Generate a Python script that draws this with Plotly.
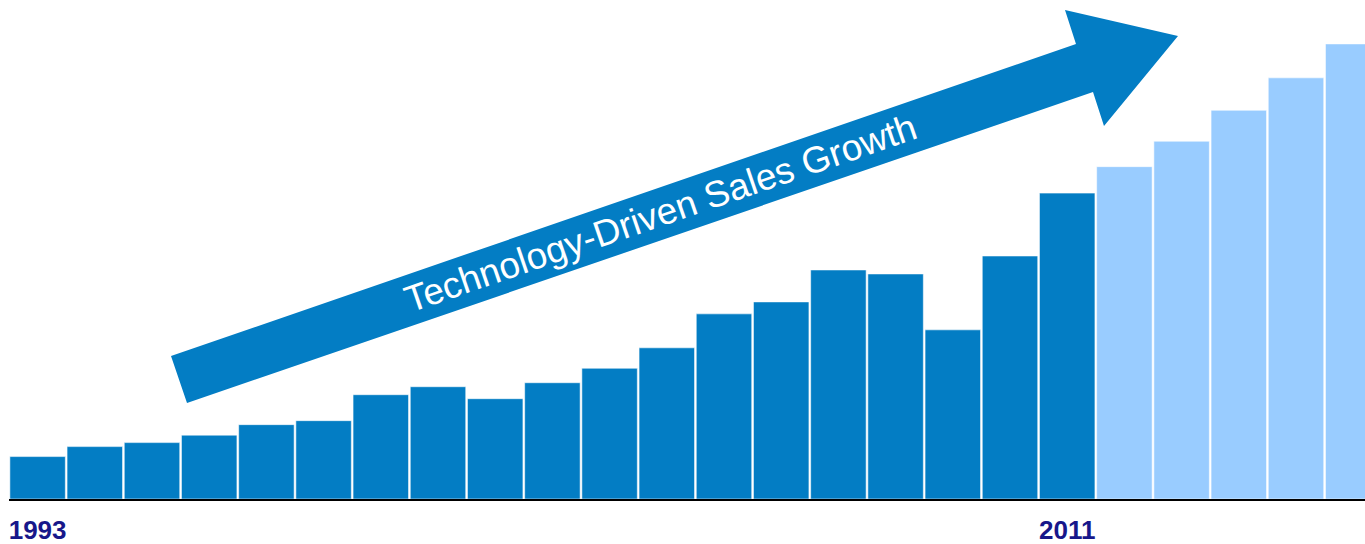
import plotly.graph_objects as go

# Annual sales, 1993-2011 actual, 2012-2016 projected
years = list(range(1993, 2017))
sales = [8.5, 10.5, 11.3, 12.8, 14.9, 15.7, 20.9, 22.5, 20.1, 23.3, 26.2, 30.3,
         37.1, 39.5, 45.9, 45.1, 33.9, 48.7, 61.3, 66.6, 71.7, 77.9, 84.4, 91.2]
last_actual_year = 2011
tick_years = [1993, 2011]
tick_text = ["1993", "2011"]
arrow_label = "Technology-Driven Sales Growth"

DARK = "#037dc4"
LIGHT = "#99ccff"
colors = [DARK if y <= last_actual_year else LIGHT for y in years]

W, H = 1365, 544
ML, MB = 9, 45
plot_w = W - ML
plot_h = H - MB


def to_paper(px, py):
    return ((px - ML) / plot_w, (plot_h - py) / plot_h)


# Outline of the growth arrow (in page pixels, converted to paper units)
arrow_pts = [(171, 356), (1076, 44), (1065, 10), (1178, 36),
             (1104, 126), (1093, 92), (187, 403)]
path = "M " + " L ".join("%.5f,%.5f" % to_paper(x, y) for x, y in arrow_pts) + " Z"

fig = go.Figure(
    go.Bar(
        x=years,
        y=sales,
        marker=dict(color=colors, line=dict(color="rgba(255,255,255,0.55)", width=1)),
        hoverinfo="x+y",
    )
)

lx, ly = to_paper(660, 213)

fig.update_layout(
    width=W,
    height=H,
    margin=dict(l=ML, r=0, t=0, b=MB),
    paper_bgcolor="white",
    plot_bgcolor="white",
    bargap=0.03,
    showlegend=False,
    xaxis=dict(
        range=[1992.5, 1992.5 + plot_w / 57.2],
        tickvals=tick_years,
        ticktext=tick_text,
        showgrid=False,
        zeroline=False,
        showline=True,
        linecolor="black",
        linewidth=2,
        ticks="",
        ticklabelstandoff=7,
        tickfont=dict(family="Liberation Sans, Arial", size=26,
                      color="#17178a", weight="bold"),
    ),
    yaxis=dict(range=[0, 100], visible=False),
    shapes=[dict(type="path", path=path, xref="paper", yref="paper",
                 fillcolor=DARK, line=dict(width=0), layer="above")],
    annotations=[dict(
        x=lx, y=ly, xref="paper", yref="paper",
        text=arrow_label, showarrow=False, textangle=-19,
        font=dict(family="Liberation Sans, Arial", size=37, color="white"),
    )],
)

fig.write_html("out.html")
